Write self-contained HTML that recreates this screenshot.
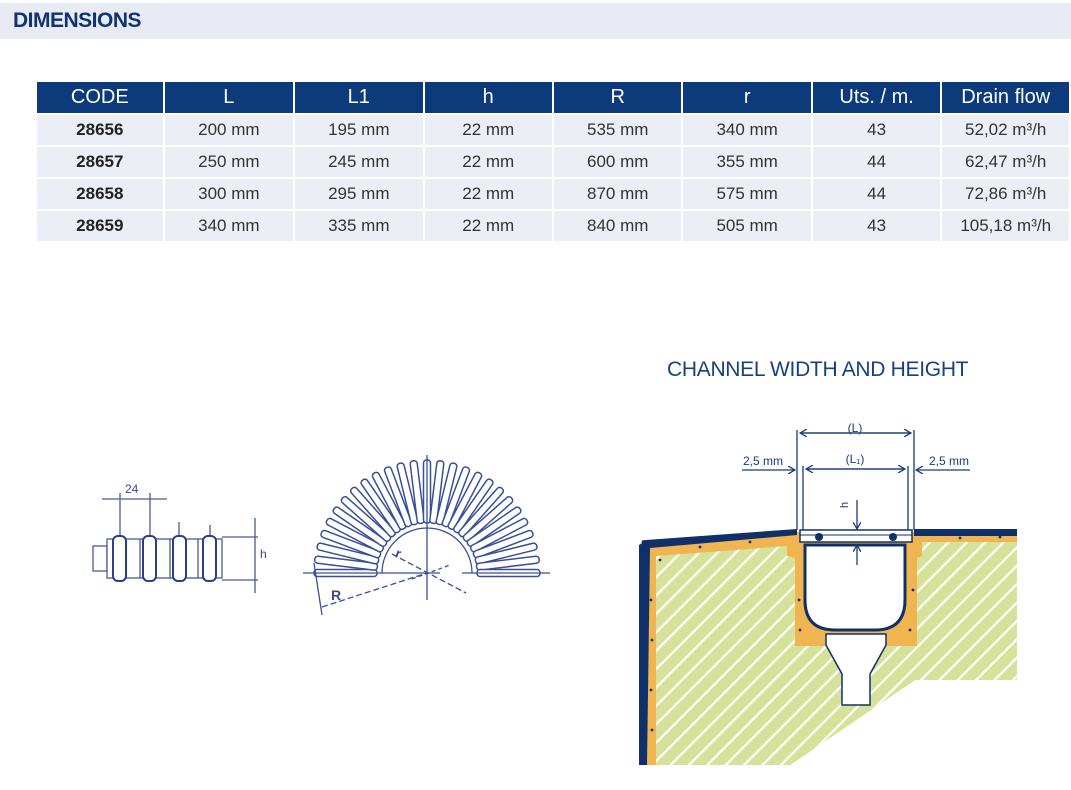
<!DOCTYPE html>
<html><head><meta charset="utf-8"><style>
body{margin:0;width:1071px;height:790px;background:#fff;position:relative;overflow:hidden;font-family:"Liberation Sans",sans-serif}
.bar{position:absolute;left:0;top:3px;width:1071px;height:36px;background:#e8ebf3}
.bar span{position:absolute;left:13px;top:6px;font-size:21px;font-weight:bold;color:#0f3474;letter-spacing:-0.5px}
table{position:absolute;left:35px;top:80px;border-collapse:collapse;table-layout:fixed}
td,th{border:2px solid #fff;text-align:center;padding:0;font-size:17px;color:#333}
th{background:#0c3a7b;color:#fff;font-weight:normal;font-size:20px;height:31px}
td{background:#eceef5;height:30px}
td.c{font-weight:bold;color:#222}
.t2{position:absolute;left:667px;top:358px;font-size:21px;color:#17407f;letter-spacing:-0.3px}
</style></head><body>
<div class="bar"><span>DIMENSIONS</span></div>
<table>
<colgroup><col style="width:128px"><col style="width:131px"><col style="width:130px"><col style="width:130px"><col style="width:130px"><col style="width:130px"><col style="width:130px"><col style="width:129px"></colgroup>
<tr><th>CODE</th><th>L</th><th>L1</th><th>h</th><th>R</th><th>r</th><th>Uts. / m.</th><th>Drain flow</th></tr>
<tr><td class="c">28656</td><td>200 mm</td><td>195 mm</td><td>22 mm</td><td>535 mm</td><td>340 mm</td><td>43</td><td>52,02 m³/h</td></tr>
<tr><td class="c">28657</td><td>250 mm</td><td>245 mm</td><td>22 mm</td><td>600 mm</td><td>355 mm</td><td>44</td><td>62,47 m³/h</td></tr>
<tr><td class="c">28658</td><td>300 mm</td><td>295 mm</td><td>22 mm</td><td>870 mm</td><td>575 mm</td><td>44</td><td>72,86 m³/h</td></tr>
<tr><td class="c">28659</td><td>340 mm</td><td>335 mm</td><td>22 mm</td><td>840 mm</td><td>505 mm</td><td>43</td><td>105,18 m³/h</td></tr>
</table>
<div class="t2">CHANNEL WIDTH AND HEIGHT</div>

<svg width="1071" height="790" style="position:absolute;left:0;top:0" xmlns="http://www.w3.org/2000/svg">
<defs>
<pattern id="hatch" width="13" height="13" patternUnits="userSpaceOnUse" patternTransform="rotate(45)">
<rect width="13" height="13" fill="#d6e19a"/><rect width="2.2" height="13" fill="#fff"/>
</pattern>
<marker id="ar" markerWidth="8" markerHeight="8" refX="7" refY="4" orient="auto" markerUnits="userSpaceOnUse"><path d="M0,0 L7,4 L0,8" fill="none" stroke="#1a3a7a" stroke-width="1.3"/></marker>
</defs>
<!-- left profile -->
<g stroke="#4a5a95" fill="none" stroke-width="1.3">
<line x1="102" y1="499" x2="167" y2="499"/>
<line x1="120" y1="493" x2="120" y2="540"/><line x1="150" y1="493" x2="150" y2="540"/>
<line x1="179" y1="522" x2="179" y2="540"/><line x1="210" y1="525" x2="210" y2="540"/>
<rect x="93" y="546" width="14" height="25"/>
<rect x="107" y="539" width="115" height="39" fill="#fff"/>
<line x1="140" y1="539" x2="140" y2="578"/><line x1="170" y1="539" x2="170" y2="578"/><line x1="198" y1="539" x2="198" y2="578"/>
<g fill="#fff" stroke="#2a3f85" stroke-width="2">
<rect x="113" y="536" width="13" height="45" rx="5"/><rect x="143" y="536" width="13" height="45" rx="5"/>
<rect x="173" y="536" width="13" height="45" rx="5"/><rect x="203" y="536" width="13" height="45" rx="5"/>
</g>
<line x1="222" y1="537" x2="258" y2="537"/><line x1="222" y1="580" x2="258" y2="580"/>
<line x1="255" y1="518" x2="255" y2="593"/>
</g>
<text x="125" y="493" font-size="12" fill="#3a4a8a">24</text>
<text x="260" y="558" font-size="12" fill="#3a4a8a">h</text>
<!-- fan -->
<g id="fan" stroke="#3a4f95" stroke-width="1.5" fill="#fff"></g>
<g stroke="#3a4f95" stroke-width="1.3" fill="none">
<path d="M382,573 A45,45 0 0 1 472,573" />
<line x1="303" y1="573" x2="440" y2="573"/><line x1="462" y1="573" x2="550" y2="573"/>
<line x1="427" y1="455" x2="427" y2="600"/>
<line x1="322" y1="607" x2="427" y2="573" stroke-dasharray="6,3"/>
<line x1="392" y1="554" x2="466" y2="593" stroke-dasharray="6,3"/>
<line x1="412" y1="579" x2="450" y2="565" stroke-dasharray="4,3"/>
<line x1="314" y1="563" x2="322" y2="615"/>
</g>
<text x="331" y="600" font-size="14" fill="#3a4a8a" font-weight="bold">R</text>
<text x="396" y="558" font-size="13" fill="#3a4a8a" font-weight="bold" transform="rotate(20 399 553)">r</text>

<!-- channel -->
<path d="M642,545 L797,532 L914,532 L1017,532 L1017,680 L915,680 L790,765 L642,765 Z" fill="#f0b450"/>
<path d="M656,556 L787,546 L787,556 L795,558 L795,646 L917,646 L917,558 L922,556 L922,542 L1017,542 L1017,680 L915,680 L790,765 L656,765 Z" fill="url(#hatch)"/>
<path d="M642,543 Q640,540 646,540 L797,529 L797,535 L650,548 L647,765 L639,765 L639,545 Z" fill="#10306a"/>
<rect x="914" y="529" width="103" height="7" fill="#10306a"/>
<g fill="#10306a">
<circle cx="660" cy="560" r="1.4"/><circle cx="651" cy="600" r="1.4"/><circle cx="652" cy="640" r="1.4"/><circle cx="651" cy="690" r="1.4"/><circle cx="652" cy="730" r="1.4"/><circle cx="700" cy="547" r="1.4"/><circle cx="750" cy="542" r="1.4"/><circle cx="799" cy="600" r="1.4"/><circle cx="913" cy="590" r="1.4"/><circle cx="960" cy="538" r="1.4"/><circle cx="1000" cy="537" r="1.4"/><circle cx="800" cy="630" r="1.4"/><circle cx="910" cy="630" r="1.4"/>
</g>
<path d="M805,545 L805,600 Q805,630 835,630 L875,630 Q905,630 905,600 L905,545 Z" fill="#fff" stroke="#10306a" stroke-width="3"/>
<rect x="800" y="530" width="112" height="12" fill="#fff" stroke="#10306a" stroke-width="1.5"/>
<line x1="800" y1="535" x2="912" y2="535" stroke="#10306a" stroke-width="1"/>
<circle cx="819" cy="537" r="4" fill="#10306a"/><circle cx="893" cy="537" r="4" fill="#10306a"/>
<path d="M826,634 L886,634 L886,645 L870,674 L870,705 L842,705 L842,674 L826,645 Z" fill="#fff" stroke="#10306a" stroke-width="1.5"/>
<g stroke="#1a3a7a" stroke-width="1.3" fill="none">
<line x1="797" y1="430" x2="797" y2="530"/><line x1="914" y1="430" x2="914" y2="530"/>
<line x1="803" y1="466" x2="803" y2="530"/><line x1="908" y1="466" x2="908" y2="530"/>
<line x1="911" y1="433" x2="800" y2="433" marker-end="url(#ar)"/>
<line x1="800" y1="433" x2="911" y2="433" marker-end="url(#ar)"/>
<line x1="806" y1="469" x2="905" y2="469" marker-end="url(#ar)"/>
<line x1="905" y1="469" x2="806" y2="469" marker-end="url(#ar)"/>
<line x1="742" y1="470" x2="795" y2="470" marker-end="url(#ar)"/>
<line x1="970" y1="470" x2="916" y2="470" marker-end="url(#ar)"/>
<line x1="857" y1="500" x2="857" y2="529" marker-end="url(#ar)"/>
<line x1="857" y1="565" x2="857" y2="545" marker-end="url(#ar)"/>
</g>
<text x="855" y="432" font-size="12" fill="#1a3a7a" text-anchor="middle">(L)</text>
<text x="855" y="463" font-size="12" fill="#1a3a7a" text-anchor="middle">(L₁)</text>
<text x="743" y="465" font-size="12" fill="#1a3a7a">2,5 mm</text>
<text x="929" y="465" font-size="12" fill="#1a3a7a">2,5 mm</text>
<text x="852" y="512" font-size="11" fill="#1a3a7a" transform="rotate(-90 848 512)">h</text>
</svg>
<script>
(function(){var g=document.getElementById('fan');var ns='http://www.w3.org/2000/svg';var cx=427,cy=573,n=27;
for(var i=0;i<n;i++){var a=180-i*180/(n-1);var r=document.createElementNS(ns,'rect');
r.setAttribute('x',cx+50);r.setAttribute('y',cy-3.5);r.setAttribute('width',63);r.setAttribute('height',7);r.setAttribute('rx',3);
r.setAttribute('transform','rotate('+(-a)+' '+cx+' '+cy+')');g.appendChild(r);}
})();
</script>
</body></html>
